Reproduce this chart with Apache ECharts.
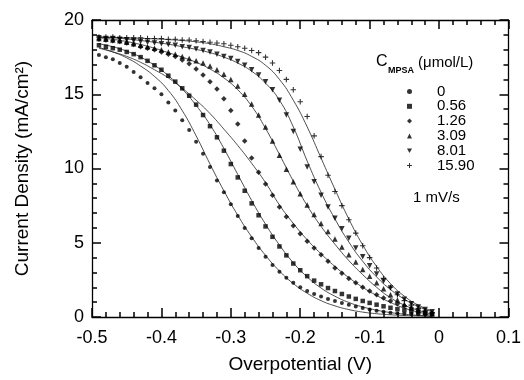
<!DOCTYPE html>
<html><head><meta charset="utf-8">
<script src="https://cdn.jsdelivr.net/npm/echarts/dist/echarts.min.js"></script>
<style>html,body{margin:0;padding:0;background:#fff}#c{width:524px;height:380px}</style>
</head><body><div id="c"></div>
<script>
// Measured points (Overpotential V, Current density mA/cm2)
const xs = [-0.49,-0.48,-0.47,-0.46,-0.45,-0.44,-0.43,-0.42,-0.41,-0.40,
            -0.39,-0.38,-0.37,-0.36,-0.35,-0.34,-0.33,-0.32,-0.31,-0.30,
            -0.29,-0.28,-0.27,-0.26,-0.25,-0.24,-0.23,-0.22,-0.21,-0.20,
            -0.19,-0.18,-0.17,-0.16,-0.15,-0.14,-0.13,-0.12,-0.11,-0.10,
            -0.09,-0.08,-0.07,-0.06,-0.05,-0.04,-0.03,-0.02,-0.01];
const c0    = [17.65,17.5,17.35,17.1,16.85,16.5,16.15,15.75,15.4,15.0,
               14.45,13.9,13.25,12.6,11.8,11.0,10.1,9.2,8.4,7.6,
               6.8,6.0,5.3,4.65,4.05,3.5,3.05,2.65,2.3,2.0,
               1.75,1.55,1.38,1.22,1.08,0.95,0.82,0.7,0.6,0.5,
               0.42,0.35,0.29,0.25,0.22,0.2,0.18,0.17,0.15];
const c056  = [18.3,18.2,18.1,18.0,17.85,17.7,17.5,17.25,16.95,16.65,
               16.25,15.85,15.4,14.9,14.3,13.6,12.85,12.1,11.2,10.3,
               9.4,8.5,7.65,6.85,6.1,5.4,4.75,4.15,3.6,3.15,
               2.75,2.45,2.2,1.95,1.75,1.55,1.38,1.22,1.08,0.95,
               0.83,0.72,0.62,0.53,0.45,0.38,0.31,0.25,0.2];
const c126  = [18.7,18.65,18.6,18.55,18.45,18.35,18.2,18.1,18.0,17.85,
               17.7,17.55,17.3,17.05,16.7,16.3,15.85,15.35,14.7,13.9,
               13.0,11.85,10.7,9.75,8.95,8.2,7.4,6.75,6.15,5.6,
               5.1,4.65,4.2,3.75,3.3,2.95,2.6,2.3,2.0,1.75,
               1.5,1.28,1.08,0.9,0.75,0.6,0.47,0.35,0.25];
const c309  = [18.75,18.7,18.65,18.6,18.5,18.4,18.3,18.2,18.1,18.0,
               17.85,17.7,17.55,17.4,17.25,17.1,16.9,16.65,16.35,16.0,
               15.55,15.0,14.35,13.6,12.8,11.85,10.9,9.95,9.1,8.3,
               7.55,6.9,6.3,5.75,5.25,4.72,4.2,3.7,3.2,2.75,
               2.3,1.9,1.5,1.15,0.85,0.62,0.45,0.32,0.22];
const c801  = [18.8,18.75,18.75,18.7,18.65,18.6,18.55,18.5,18.45,18.4,
               18.35,18.3,18.2,18.15,18.05,17.95,17.85,17.7,17.55,17.4,
               17.2,16.95,16.65,16.3,15.85,15.3,14.6,13.6,12.5,11.3,
               10.1,9.1,8.2,7.4,6.65,5.95,5.3,4.65,4.05,3.45,
               2.9,2.4,1.95,1.55,1.2,0.9,0.68,0.5,0.35];
const c1590 = [18.85,18.85,18.85,18.8,18.8,18.8,18.8,18.75,18.75,18.75,
               18.7,18.7,18.65,18.65,18.6,18.55,18.5,18.45,18.4,18.3,
               18.2,18.1,17.95,17.8,17.5,17.1,16.6,16.0,15.3,14.5,
               13.5,12.2,10.8,9.55,8.45,7.5,6.55,5.65,4.8,4.0,
               3.3,2.6,2.0,1.5,1.1,0.8,0.58,0.42,0.3];

// Fitted curves
const xsFit = [-0.49,-0.47,-0.45,-0.43,-0.41,-0.39,-0.37,-0.35,-0.33,-0.31,
               -0.29,-0.27,-0.25,-0.23,-0.21,-0.19,-0.17,-0.15,-0.13,-0.11,
               -0.09,-0.07,-0.05,-0.03,-0.01];
const f0    = [18.15,17.85,17.45,16.9,16.2,15.25,13.9,12.2,10.3,8.5,6.85,5.4,4.15,3.1,2.25,1.6,1.1,0.75,0.5,0.33,0.22,0.15,0.1,0.07,0.05];
const f056  = [18.4,18.2,17.9,17.5,16.95,16.25,15.35,14.25,12.95,11.35,9.6,7.85,6.25,4.85,3.65,2.7,1.95,1.4,0.98,0.68,0.46,0.3,0.19,0.11,0.06];
const f126  = [18.1,17.85,17.55,17.15,16.65,16.1,15.4,14.6,13.7,12.65,11.55,10.35,9.05,7.55,6.3,5.2,4.25,3.4,2.65,2.0,1.45,0.98,0.6,0.33,0.15];
const f309  = [18.8,18.7,18.55,18.35,18.1,17.8,17.5,17.15,16.7,16.1,15.3,14.2,12.7,10.95,9.15,7.5,6.1,4.9,3.8,2.85,2.0,1.3,0.8,0.45,0.2];
const f801  = [18.85,18.8,18.72,18.62,18.5,18.37,18.2,18.02,17.8,17.5,17.1,16.55,15.75,14.6,12.8,10.5,8.4,6.6,5.05,3.75,2.7,1.85,1.2,0.7,0.35];
const f1590 = [18.85,18.83,18.8,18.77,18.73,18.68,18.62,18.53,18.4,18.2,17.95,17.55,16.95,16.0,14.6,12.8,10.7,8.6,6.6,4.85,3.4,2.25,1.4,0.8,0.4];

const names = ['0','0.56','1.26','3.09','8.01','15.90'];
const measured = [c0,c056,c126,c309,c801,c1590];
const fits = [f0,f056,f126,f309,f801,f1590];
const xTickLabels = ['-0.5','-0.4','-0.3','-0.2','-0.1','0','0.1'];
const yTickLabels = ['0','5','10','15','20'];

const FONT = "'Liberation Sans', Arial, Helvetica, sans-serif";
const plusPath = 'path://M2,0L3,0L3,2L5,2L5,3L3,3L3,5L2,5L2,3L0,3L0,2L2,2Z';
const downTri = 'path://M0,0L10,0L5,9Z';
const symbols = [
  {symbol:'circle', size:4, legend:'circle'},
  {symbol:'rect', size:4.5, legend:'rect'},
  {symbol:'diamond', size:5.5, legend:'diamond'},
  {symbol:'triangle', size:5.5, legend:'triangle'},
  {symbol:downTri, size:5.5, legend:downTri},
  {symbol:plusPath, size:5.5, legend:plusPath}
];

const series = [];
names.forEach((n,k)=>{
  series.push({
    type:'line', name:'fit'+n, data: xsFit.map((x,i)=>[x,fits[k][i]]),
    xAxisIndex:0, yAxisIndex:0,
    smooth:true, symbol:'none', silent:true,
    lineStyle:{color:'#222', width:0.8}, z:1
  });
});
names.forEach((n,k)=>{
  series.push({
    type:'scatter', name:n, data: xs.map((x,i)=>[x,measured[k][i]]),
    xAxisIndex:0, yAxisIndex:0,
    symbol:symbols[k].symbol, symbolSize:symbols[k].size,
    itemStyle:{color:'#000'}, z:3
  });
});

function fmtX(v){ const i = Math.round((v+0.5)*10); return xTickLabels[i] ?? ''; }
function fmtY(v){ const i = Math.round(v/5); return yTickLabels[i] ?? ''; }

// Each side: one axis carries the line + long major ticks, a second one the short minor ticks.
function ax(kind, pos, minor, extra){
  const o = {
    type:'value', position:pos,
    interval: kind==='x' ? (minor ? 0.02 : 0.1) : (minor ? 1 : 5),
    min: kind==='x' ? -0.5 : 0, max: kind==='x' ? 0.1 : 20,
    axisLine:{show:!minor, onZero:false, lineStyle:{color:'#000', width:1.3}},
    axisTick:{show:true, inside:true, length: minor ? 5 : 9,
              lineStyle:{color:'#000', width:1.5}},
    axisLabel:{show:true, color:'rgba(0,0,0,0)', fontSize:1},
    splitLine:{show:false}
  };
  return Object.assign(o, extra||{});
}

const chart = echarts.init(document.getElementById('c'));
chart.setOption({
  animation:false,
  grid:{left:92, right:13, top:20, bottom:63},
  xAxis:[
    ax('x','bottom',false,{
      name:'Overpotential (V)', nameLocation:'middle', nameGap:38,
      nameTextStyle:{fontFamily:FONT, fontSize:19, color:'#000'},
      axisLabel:{show:true, formatter:fmtX, fontFamily:FONT, fontSize:18, color:'#000', margin:12}}),
    ax('x','bottom',true),
    ax('x','top',false),
    ax('x','top',true)
  ],
  yAxis:[
    ax('y','left',false,{
      name:'Current Density (mA/cm²)', nameLocation:'middle', nameGap:60,
      nameTextStyle:{fontFamily:FONT, fontSize:19, color:'#000'},
      axisLabel:{show:true, formatter:fmtY, fontFamily:FONT, fontSize:18, color:'#000', margin:8}}),
    ax('y','left',true),
    ax('y','right',false),
    ax('y','right',true)
  ],
  legend:{
    data:names.map((n,k)=>({name:n, icon:symbols[k].legend})),
    orient:'vertical', left:407, top:84, padding:0,
    itemWidth:5, itemHeight:5, itemGap:-0.2,
    textStyle:{fontFamily:FONT, fontSize:15, color:'#000', padding:[0,0,0,20]},
    selectedMode:false
  },
  graphic:[
    {type:'text', left:376, top:54, style:{text:'C', font:'16px '+FONT, fill:'#000'}},
    {type:'text', left:388, top:66, style:{text:'MPSA', font:'bold 9px '+FONT, fill:'#000'}},
    {type:'text', left:418, top:55, style:{text:'(μmol/L)', font:'15px '+FONT, fill:'#000'}},
    {type:'text', left:413, top:190, style:{text:'1 mV/s', font:'15px '+FONT, fill:'#000'}}
  ],
  series:series
});
</script></body></html>
